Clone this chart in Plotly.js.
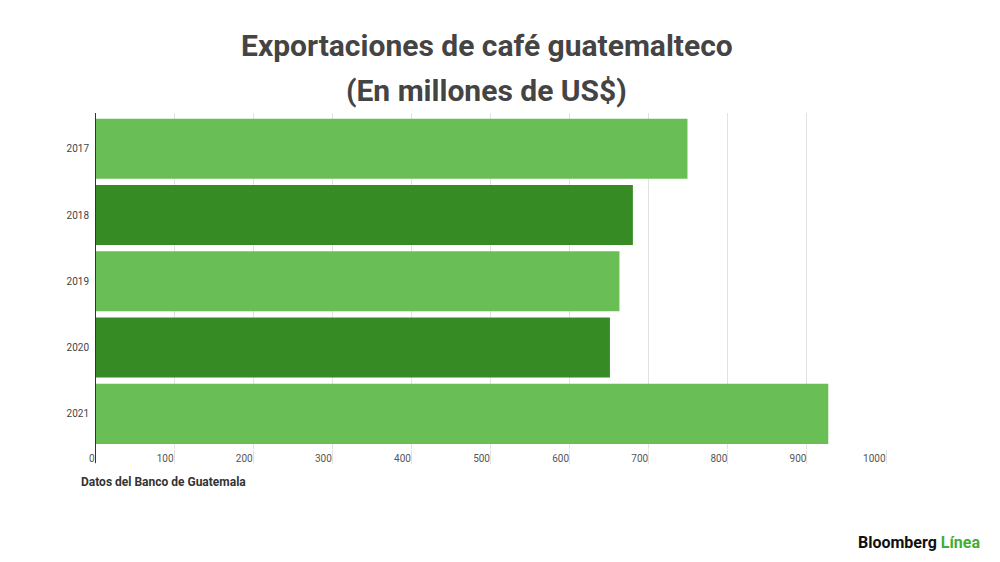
<!DOCTYPE html>
<html>
<head>
<meta charset="utf-8">
<script src="https://cdn.plot.ly/plotly-3.0.1.min.js"></script>
<style>html,body{margin:0;padding:0;background:#fff;}#chart{width:1000px;height:562px;}</style>
</head>
<body>
<div id="chart"></div>
<script>
const years = ['2017', '2018', '2019', '2020', '2021'];
const exportsUSD = [749, 680, 663, 651, 927];
const barColors = ['#69bf56', '#368b24', '#69bf56', '#368b24', '#69bf56'];
const xTicks = [0, 100, 200, 300, 400, 500, 600, 700, 800, 900, 1000];

const trace = {
  type: 'bar',
  orientation: 'h',
  y: years,
  x: exportsUSD,
  marker: {color: barColors},
  hoverinfo: 'x+y'
};

const layout = {
  width: 1000, height: 562,
  margin: {l: 95, r: 114, t: 113, b: 113},
  paper_bgcolor: '#fff', plot_bgcolor: '#fff',
  showlegend: false,
  bargap: 0.094,
  font: {family: 'Roboto, sans-serif', color: '#444'},
  xaxis: {
    range: [0, 1000],
    tickvals: xTicks,
    ticktext: xTicks.map(String),
    showgrid: true, gridcolor: '#e2e2e2', gridwidth: 1,
    zeroline: false,
    ticks: 'outside', ticklen: 14, tickcolor: '#e2e2e2', tickwidth: 1,
    ticklabelposition: 'outside left',
    ticklabelstandoff: 0,
    tickfont: {size: 10, color: '#555', family: 'Roboto, sans-serif'},
    fixedrange: true
  },
  yaxis: {
    type: 'category',
    range: [4.53, -0.54],
    showgrid: false, zeroline: false,
    showline: false,
    ticks: '',
    ticklabelstandoff: 5,
    tickfont: {size: 10, color: '#444', family: 'Roboto, sans-serif'},
    fixedrange: true
  },
  shapes: [
    {type: 'line', xref: 'x', yref: 'paper', x0: 0, x1: 0, y0: -0.042, y1: 1,
     line: {color: '#333', width: 2}}
  ],
  annotations: [
    {text: '<b>Exportaciones de café guatemalteco</b>', xref: 'paper', yref: 'paper',
     x: 0.495, y: 1, xanchor: 'center', yanchor: 'middle', yshift: 68, showarrow: false,
     font: {size: 30, color: '#444', family: 'Roboto, sans-serif'}},
    {text: '<b>(En millones de US$)</b>', xref: 'paper', yref: 'paper',
     x: 0.495, y: 1, xanchor: 'center', yanchor: 'middle', yshift: 23, showarrow: false,
     font: {size: 30, color: '#444', family: 'Roboto, sans-serif'}},
    {text: '<b>Datos del Banco de Guatemala</b>', xref: 'paper', yref: 'paper',
     x: -0.02, y: 0, xanchor: 'left', yanchor: 'middle', yshift: -33, showarrow: false,
     font: {size: 12, color: '#333', family: 'Roboto, sans-serif'}},
    {text: '<b><span style="color:#111">Bloomberg</span> <span style="color:#3fae35">Línea</span></b>',
     xref: 'paper', yref: 'paper', x: 1, y: 0, xanchor: 'right', yanchor: 'middle',
     xshift: 96, yshift: -93, showarrow: false,
     font: {size: 16, family: 'Roboto, sans-serif'}}
  ]
};

Plotly.newPlot('chart', [trace], layout, {displayModeBar: false, staticPlot: true});
</script>
</body>
</html>
